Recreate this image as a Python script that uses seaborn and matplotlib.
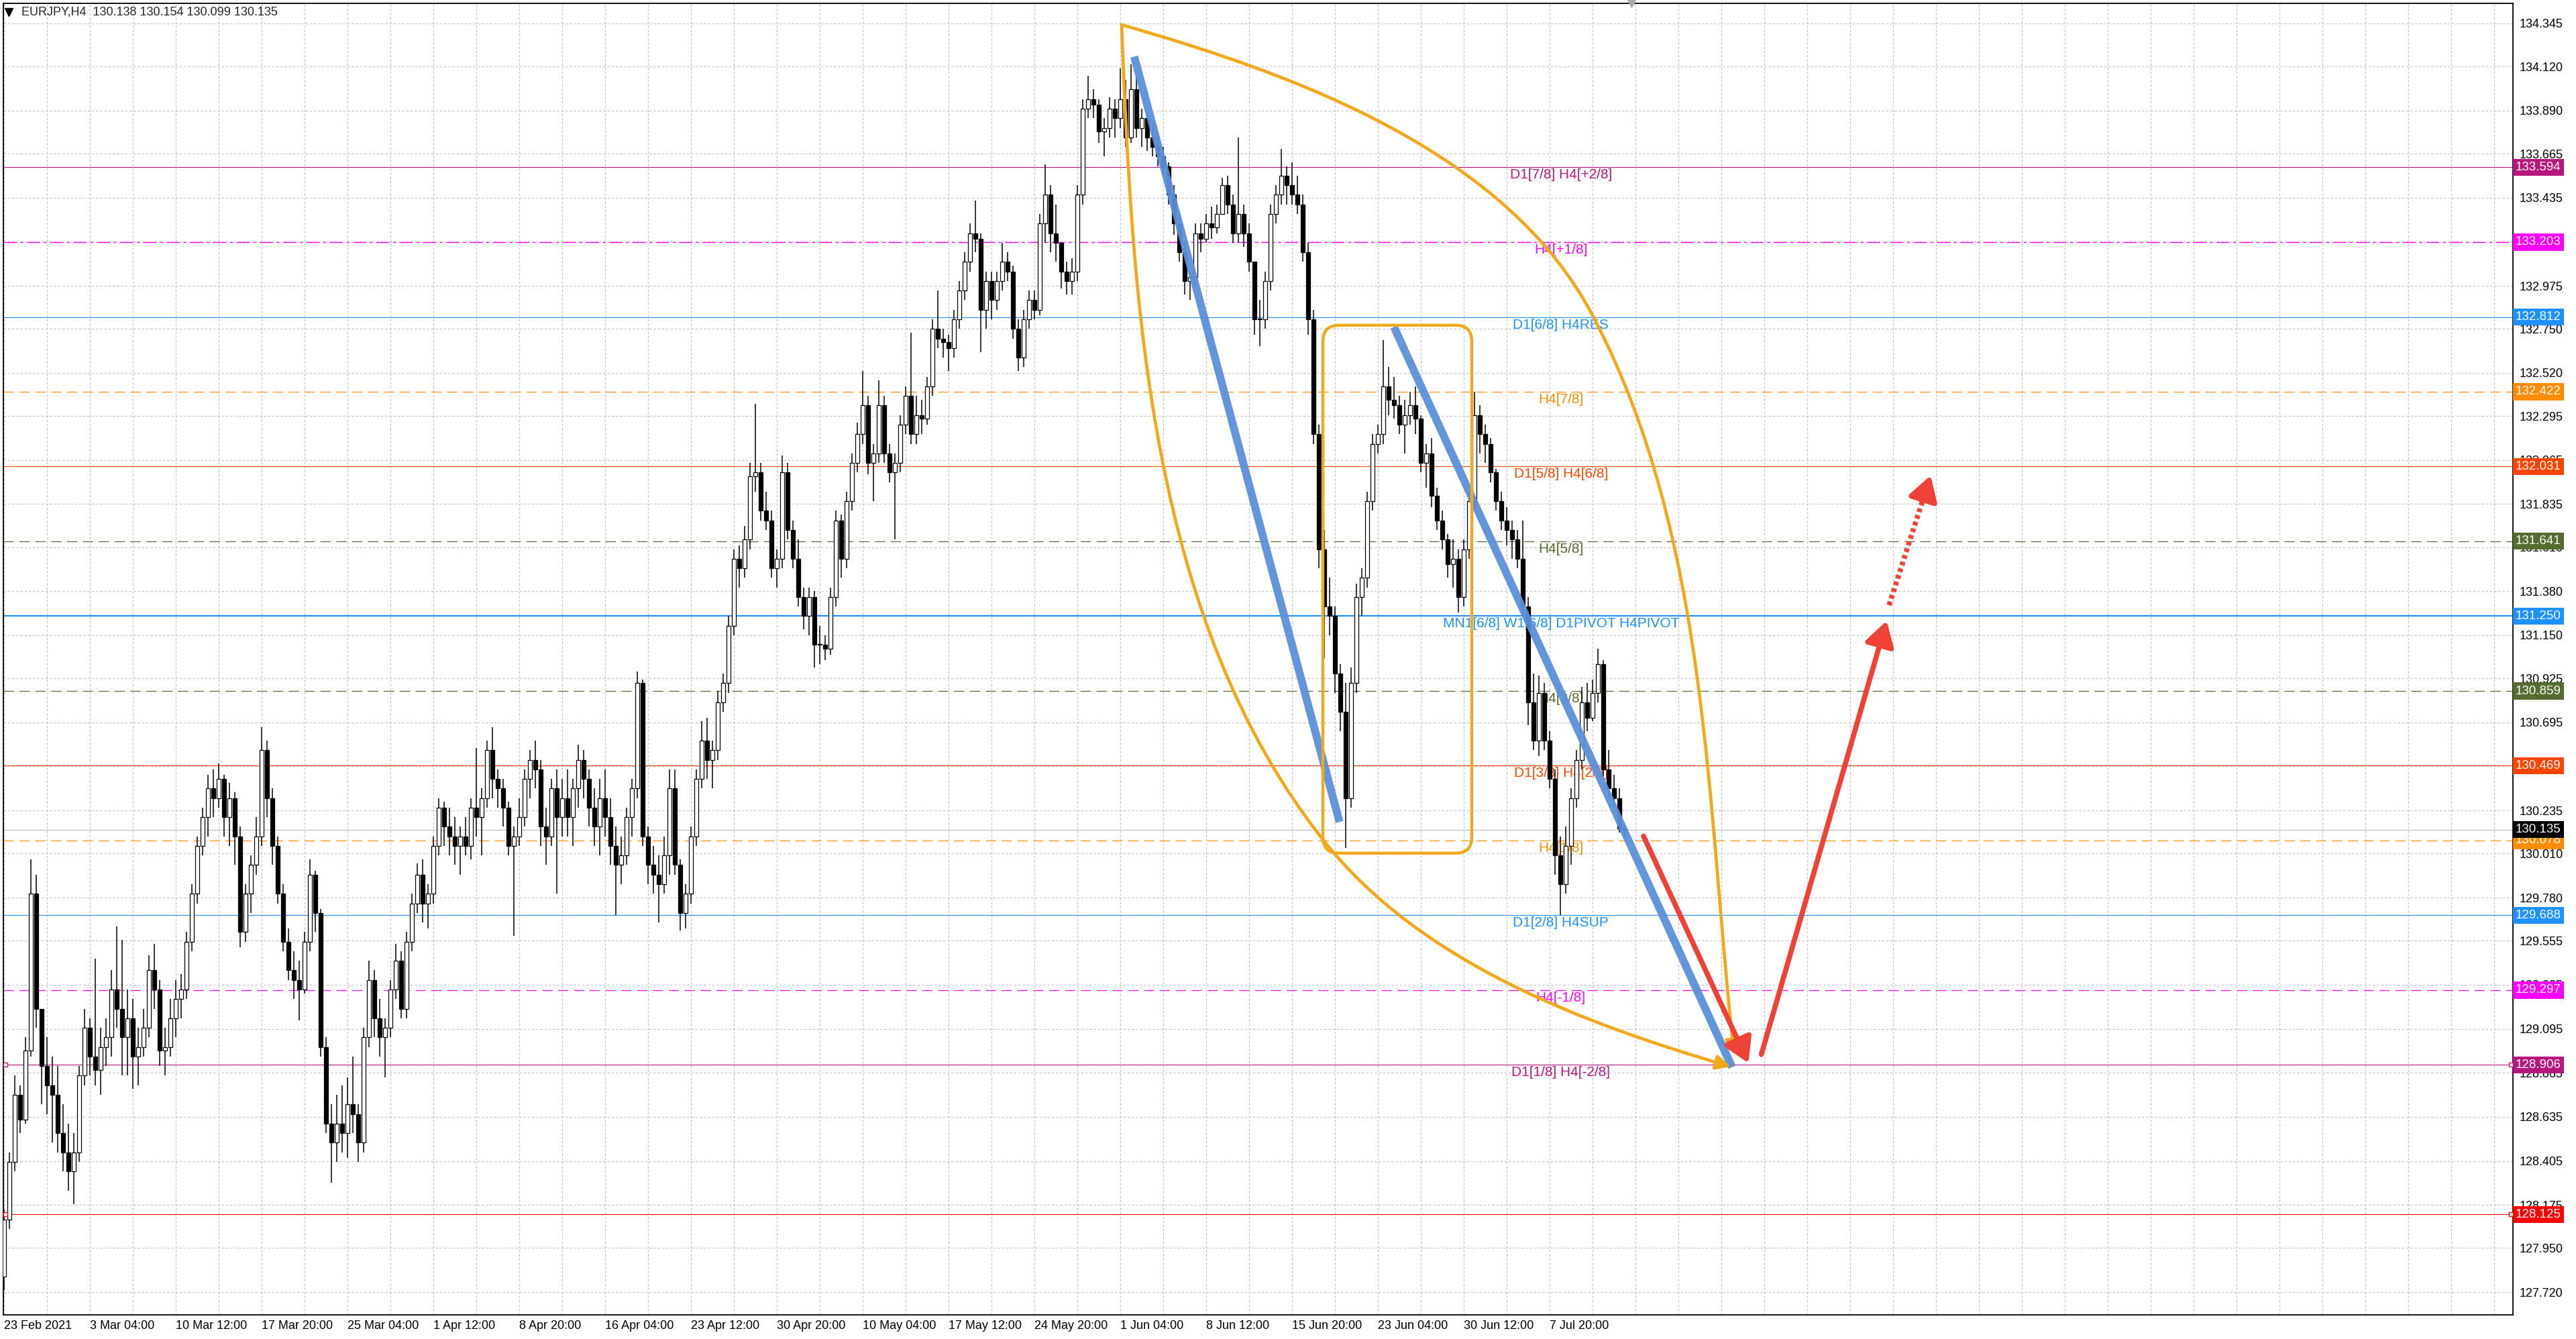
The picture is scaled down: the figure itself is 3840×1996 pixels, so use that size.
import numpy as np
import pandas as pd
import matplotlib
matplotlib.use("Agg")
import matplotlib.pyplot as plt
import seaborn as sns
from matplotlib.path import Path
from matplotlib.patches import FancyArrowPatch, FancyBboxPatch
from matplotlib.lines import Line2D

# ==================== 数据 ====================

header_text = "EURJPY,H4  130.138 130.154 130.099 130.135"

# H4 candles, one entry every 2 bars (8 hours)
bar_step = 2
first_open = 127.80
highs = [
    128.15, 128.45, 128.85, 128.80, 129.05, 129.98, 129.90, 129.20, 129.05, 128.95,
    128.90, 128.70, 128.60, 128.55, 128.90, 129.20, 129.15, 129.46, 129.10, 129.15,
    129.40, 129.63, 129.56, 129.30, 129.25, 129.10, 129.20, 129.48, 129.54, 129.35,
    129.10, 129.25, 129.35, 129.38, 129.60, 129.85, 130.10, 130.25, 130.42, 130.45,
    130.48, 130.42, 130.38, 130.33, 130.15, 129.85, 130.00, 130.20, 130.67, 130.60,
    130.35, 130.10, 129.85, 129.62, 129.50, 129.45, 129.60, 129.98, 129.92, 129.72,
    129.05, 128.70, 128.75, 128.80, 128.84, 128.95, 128.70, 129.10, 129.45, 129.40,
    129.25, 129.15, 129.35, 129.54, 129.50, 129.60, 129.80, 129.96, 129.98, 129.85,
    130.10, 130.30, 130.28, 130.25, 130.20, 130.15, 130.20, 130.30, 130.56, 130.35,
    130.60, 130.67, 130.45, 130.40, 130.28, 130.15, 130.30, 130.45, 130.55, 130.60,
    130.50, 130.25, 130.40, 130.45, 130.40, 130.45, 130.40, 130.58, 130.55, 130.45,
    130.35, 130.40, 130.45, 130.30, 130.15, 130.10, 130.25, 130.40, 130.96, 130.92,
    130.15, 130.05, 130.00, 130.10, 130.45, 130.45, 129.98, 129.85, 130.15, 130.45,
    130.70, 130.72, 130.60, 130.86, 130.95, 131.25, 131.60, 131.62, 131.72, 132.05,
    132.36, 132.05, 131.90, 131.80, 131.60, 132.09, 132.05, 131.75, 131.65, 131.40,
    131.40, 131.38, 131.20, 131.15, 131.40, 131.80, 131.78, 131.90, 132.10, 132.26,
    132.53, 132.40, 132.15, 132.48, 132.40, 132.15, 132.10, 132.30, 132.45, 132.73,
    132.40, 132.38, 132.50, 132.80, 132.95, 132.75, 132.72, 132.85, 133.00, 133.15,
    133.30, 133.42, 133.25, 133.05, 133.05, 133.05, 133.20, 133.15, 133.08, 132.80,
    132.85, 132.95, 132.95, 133.35, 133.61, 133.50, 133.40, 133.20, 133.10, 133.12,
    133.50, 133.95, 134.07, 134.00, 133.95, 133.85, 133.96, 133.95, 134.11, 134.05,
    134.13, 134.08, 133.90, 133.88, 133.82, 133.78, 133.70, 133.62, 133.50, 133.35,
    133.20, 133.05, 133.30, 133.30, 133.35, 133.39, 133.40, 133.54, 133.55, 133.45,
    133.75, 133.40, 133.30, 133.10, 132.90, 133.05, 133.40, 133.50, 133.69, 133.60,
    133.62, 133.55, 133.45, 133.20, 132.85, 132.25, 131.70, 131.45, 131.30, 131.00,
    130.90, 130.98, 131.42, 131.50, 131.90, 132.20, 132.25, 132.69, 132.55, 132.50,
    132.40, 132.38, 132.42, 132.45, 132.30, 132.15, 132.18, 131.92, 131.80, 131.68,
    131.65, 131.60, 131.65, 131.90, 132.42, 132.35, 132.25, 132.18, 132.02, 131.90,
    131.82, 131.75, 131.70, 131.75, 131.35, 130.95, 130.94, 130.90, 130.65, 130.45,
    130.10, 130.15, 130.35, 130.55, 130.88, 130.90, 130.92, 131.08, 131.02, 130.55,
    130.42, 130.35, 130.154,
]
lows = [
    127.73, 128.05, 128.35, 128.55, 128.60, 128.95, 129.10, 128.70, 128.65, 128.50,
    128.45, 128.35, 128.25, 128.18, 128.40, 128.80, 128.85, 128.80, 128.75, 128.90,
    128.95, 129.10, 128.85, 128.85, 128.78, 128.80, 128.95, 129.05, 129.20, 128.90,
    128.85, 128.95, 129.05, 129.15, 129.25, 129.50, 129.75, 130.00, 130.10, 130.20,
    130.25, 130.10, 130.05, 129.95, 129.52, 129.55, 129.70, 129.90, 130.05, 130.20,
    129.95, 129.75, 129.50, 129.35, 129.25, 129.14, 129.28, 129.50, 129.60, 128.95,
    128.55, 128.29, 128.40, 128.45, 128.42, 128.55, 128.40, 128.45, 129.00, 129.05,
    128.95, 128.84, 129.05, 129.25, 129.15, 129.15, 129.50, 129.70, 129.65, 129.62,
    129.75, 130.00, 130.05, 130.00, 129.95, 129.90, 130.00, 129.98, 130.10, 130.00,
    130.25, 130.30, 130.25, 130.15, 130.00, 129.58, 130.05, 130.15, 130.30, 130.35,
    130.05, 129.95, 130.05, 129.80, 130.10, 130.10, 130.05, 130.25, 130.30, 130.15,
    130.05, 130.00, 130.10, 129.95, 129.69, 129.85, 129.95, 130.10, 130.30, 130.05,
    129.85, 129.80, 129.65, 129.80, 129.90, 129.90, 129.61, 129.62, 129.75, 130.05,
    130.35, 130.40, 130.35, 130.50, 130.75, 130.85, 131.15, 131.40, 131.45, 131.60,
    131.90, 131.75, 131.70, 131.45, 131.40, 131.50, 131.65, 131.50, 131.30, 131.18,
    131.15, 130.98, 131.00, 131.02, 131.05, 131.30, 131.45, 131.50, 131.80, 132.00,
    132.15, 131.99, 131.85, 132.05, 132.05, 131.95, 131.65, 132.00, 132.20, 132.15,
    132.15, 132.20, 132.25, 132.40, 132.65, 132.60, 132.53, 132.60, 132.75, 132.90,
    133.05, 133.15, 132.63, 132.75, 132.80, 132.85, 132.95, 133.00, 132.70, 132.53,
    132.55, 132.75, 132.80, 132.82, 133.20, 133.15, 133.10, 132.96, 132.93, 132.93,
    133.00, 133.40, 133.85, 133.85, 133.72, 133.65, 133.75, 133.75, 133.80, 133.70,
    133.72, 133.75, 133.70, 133.68, 133.65, 133.60, 133.55, 133.40, 133.24, 133.10,
    132.93, 132.90, 132.98, 133.15, 133.20, 133.22, 133.25, 133.35, 133.35, 133.20,
    133.20, 133.18, 133.05, 132.72, 132.66, 132.75, 132.95, 133.30, 133.40, 133.40,
    133.40, 133.35, 133.10, 132.72, 132.15, 131.50, 131.03, 131.15, 130.85, 130.65,
    130.04, 130.25, 130.85, 131.25, 131.40, 131.80, 132.10, 132.15, 132.30, 132.28,
    132.20, 132.10, 132.25, 132.20, 132.00, 131.92, 131.82, 131.70, 131.60, 131.45,
    131.40, 131.27, 131.30, 131.55, 131.80, 132.10, 132.05, 131.95, 131.80, 131.70,
    131.62, 131.55, 131.50, 131.25, 130.68, 130.55, 130.52, 130.55, 130.35, 129.90,
    129.69, 129.80, 129.95, 130.25, 130.45, 130.65, 130.70, 130.80, 130.40, 130.30,
    130.25, 130.12, 130.099,
]
closes = [
    128.10, 128.40, 128.75, 128.62, 128.98, 129.80, 129.20, 128.90, 128.80, 128.75,
    128.55, 128.45, 128.35, 128.45, 128.85, 129.10, 128.95, 128.88, 129.00, 129.05,
    129.30, 129.20, 129.05, 129.15, 128.95, 129.00, 129.10, 129.40, 129.30, 128.98,
    129.00, 129.15, 129.25, 129.30, 129.55, 129.80, 130.05, 130.20, 130.35, 130.30,
    130.40, 130.20, 130.30, 130.10, 129.60, 129.80, 129.95, 130.10, 130.55, 130.30,
    130.05, 129.80, 129.55, 129.40, 129.35, 129.30, 129.55, 129.90, 129.70, 129.00,
    128.60, 128.50, 128.60, 128.55, 128.70, 128.65, 128.50, 129.05, 129.35, 129.15,
    129.05, 129.10, 129.30, 129.45, 129.20, 129.55, 129.75, 129.90, 129.75, 129.80,
    130.05, 130.25, 130.15, 130.10, 130.05, 130.10, 130.05, 130.25, 130.20, 130.30,
    130.55, 130.40, 130.35, 130.25, 130.05, 130.10, 130.20, 130.40, 130.50, 130.45,
    130.15, 130.10, 130.35, 130.20, 130.30, 130.20, 130.35, 130.50, 130.40, 130.25,
    130.15, 130.30, 130.20, 130.05, 129.95, 130.00, 130.20, 130.35, 130.90, 130.10,
    129.95, 129.90, 129.85, 130.00, 130.35, 129.95, 129.70, 129.80, 130.10, 130.40,
    130.60, 130.50, 130.55, 130.80, 130.90, 131.20, 131.55, 131.50, 131.65, 131.98,
    132.00, 131.80, 131.75, 131.50, 131.55, 132.00, 131.70, 131.55, 131.35, 131.25,
    131.35, 131.10, 131.10, 131.08, 131.35, 131.75, 131.55, 131.85, 132.05, 132.20,
    132.35, 132.05, 132.10, 132.35, 132.10, 132.00, 132.05, 132.25, 132.40, 132.20,
    132.30, 132.28, 132.45, 132.75, 132.70, 132.68, 132.65, 132.80, 132.95, 133.10,
    133.25, 133.22, 132.85, 133.00, 132.90, 133.00, 133.10, 133.05, 132.75, 132.60,
    132.80, 132.90, 132.85, 133.30, 133.45, 133.25, 133.20, 133.05, 133.00, 133.05,
    133.45, 133.90, 133.95, 133.92, 133.78, 133.80, 133.90, 133.85, 133.95, 133.75,
    134.00, 133.80, 133.85, 133.75, 133.70, 133.65, 133.60, 133.45, 133.30, 133.15,
    133.00, 133.02, 133.25, 133.22, 133.30, 133.28, 133.35, 133.50, 133.40, 133.25,
    133.35, 133.25, 133.10, 132.80, 132.80, 133.00, 133.35, 133.45, 133.55, 133.50,
    133.45, 133.40, 133.15, 132.80, 132.20, 131.60, 131.30, 131.25, 130.95, 130.75,
    130.30, 130.90, 131.35, 131.45, 131.85, 132.15, 132.20, 132.45, 132.38, 132.35,
    132.25, 132.30, 132.35, 132.28, 132.05, 132.10, 131.88, 131.75, 131.65, 131.52,
    131.55, 131.35, 131.60, 131.85, 132.30, 132.20, 132.15, 132.00, 131.85, 131.75,
    131.70, 131.65, 131.55, 131.30, 130.80, 130.60, 130.85, 130.60, 130.40, 130.00,
    129.85, 130.05, 130.30, 130.50, 130.80, 130.72, 130.85, 131.00, 130.45, 130.35,
    130.30, 130.14, 130.135,
]

date_labels = [
    "23 Feb 2021", "3 Mar 04:00", "10 Mar 12:00", "17 Mar 20:00", "25 Mar 04:00",
    "1 Apr 12:00", "8 Apr 20:00", "16 Apr 04:00", "23 Apr 12:00", "30 Apr 20:00",
    "10 May 04:00", "17 May 12:00", "24 May 20:00", "1 Jun 04:00", "8 Jun 12:00",
    "15 Jun 20:00", "23 Jun 04:00", "30 Jun 12:00", "7 Jul 20:00",
]
date_tick_bars = [32 * n for n in range(len(date_labels))]

price_ticks = [
    134.345, 134.120, 133.890, 133.665, 133.435, 133.205, 132.975, 132.750,
    132.520, 132.295, 132.065, 131.835, 131.610, 131.380, 131.150, 130.925,
    130.695, 130.465, 130.235, 130.010, 129.780, 129.555, 129.325, 129.095,
    128.865, 128.635, 128.405, 128.175, 127.950, 127.720,
]

# Murrey math / pivot levels
level_prices = [133.594, 133.203, 132.812, 132.422, 132.031, 131.641, 131.250,
                130.859, 130.469, 130.078, 129.688, 129.297, 128.906, 128.125]
level_texts = ["D1[7/8] H4[+2/8]", "H4[+1/8]", "D1[6/8] H4RES", "H4[7/8]",
               "D1[5/8] H4[6/8]", "H4[5/8]", "MN1[6/8] W1[6/8] D1PIVOT H4PIVOT",
               "H4[3/8]", "D1[3/8] H4[2/8]", "H4[1/8]", "D1[2/8] H4SUP",
               "H4[-1/8]", "D1[1/8] H4[-2/8]", ""]
level_colors = ["#B4187F", "#FF00FF", "#1E90FF", "#FF8C00", "#FF4500", "#556B2F",
                "#1E90FF", "#556B2F", "#FF4500", "#FF8C00", "#1E90FF", "#FF00FF",
                "#B4187F", "#FF0000"]
level_styles = ["solid", "dashdot", "solid", "dashed", "solid", "dashed", "solid",
                "dashed", "solid", "dashed", "solid", "dashed", "solid", "solid"]
level_widths = [0.8, 1.0, 0.8, 0.9, 0.8, 0.9, 1.5, 0.9, 0.8, 0.9, 0.8, 0.9, 0.8, 0.8]
current_price = 130.135

# hand-drawn analysis (bar index, price)
trend_a_bars = [421.2, 497.7]
trend_a_prices = [134.172, 130.175]
trend_b_bars = [518.0, 644.0]
trend_b_prices = [132.760, 128.894]
upper_arc_bars = [416.5, 483.0, 560.5, 592.25, 635.5, 634.5, 644.75]
upper_arc_prices = [134.338, 134.072, 133.669, 132.814, 131.658, 130.260, 128.960]
lower_arc_bars = [416.5, 420.6, 426.8, 492.25, 528.1, 588.35, 643.5]
lower_arc_prices = [134.338, 132.868, 131.221, 130.070, 129.440, 129.124, 128.897]
box_bars = [491.5, 547.0]
box_prices = [130.012, 132.769]
red_down_bars = [611.0, 650.1]
red_down_prices = [130.101, 128.916]
red_up_bars = [654.9, 701.6]
red_up_prices = [128.961, 131.225]
red_dash_bars = [702.5, 718.0]
red_dash_prices = [131.307, 131.984]

# ==================== 绘图 ====================

sns.set_theme(style="white")
plt.rcParams["font.family"] = ["Liberation Sans", "DejaVu Sans"]
plt.rcParams["lines.scale_dashes"] = False

W, H = 3840, 1996
fig = plt.figure(figsize=(W / 100, H / 100), dpi=100, facecolor="white")
ax = fig.add_axes([5 / W, 36 / H, 3741 / W, 1955 / H])
ax.set_facecolor("white")
ax.set_xlim(-0.25, 935)
ax.set_ylim(127.601, 134.450)

orange = "#F2A81D"
blue = "#5B8FD8"
red = "#EE4238"

dash_map = {"solid": "-", "dashed": (0, (11, 6)), "dashdot": (0, (14, 4, 3, 4))}

# grid
ax.set_xticks(date_tick_bars)
ax.set_xticklabels(date_labels, ha="left", fontsize=13)
ax.set_xticks(np.arange(0, 935, 16), minor=True)
ax.set_yticks(price_ticks)
ax.set_yticklabels([f"{p:.3f}" for p in price_ticks], fontsize=13)
grid_kw = dict(color="#C4C4C4", linewidth=0.9, linestyle=(0, (2.5, 2)))
ax.grid(True, which="both", axis="x", **grid_kw)
ax.grid(True, which="major", axis="y", **grid_kw)
ax.set_axisbelow(True)

ax.yaxis.tick_right()
ax.tick_params(axis="y", length=0, pad=7, colors="black")
ax.tick_params(axis="x", which="major", direction="out", length=4, width=1,
               pad=2, colors="black")
ax.tick_params(axis="x", which="minor", length=0)
for s in ax.spines.values():
    s.set_color("black")
    s.set_linewidth(1.3)

# level lines and labels
for p, txt, col, st, lw in zip(level_prices, level_texts, level_colors,
                               level_styles, level_widths):
    ax.axhline(p, color=col, lw=lw, ls=dash_map[st], zorder=1.5)
    if txt:
        ax.annotate(txt, xy=(580.2, p), xytext=(0, -2), textcoords="offset pixels",
                    ha="center", va="top", fontsize=15, color=col, zorder=2)
ax.axhline(current_price, color="#C0C0C0", lw=0.9, zorder=1.5)

# small anchor squares of the selected lines
for p, col in [(128.906, "#B4187F"), (128.125, "#FF0000")]:
    ax.plot([0.5, 934.2], [p, p], ls="none", marker="s", ms=4, mfc="white",
            mec=col, mew=1, zorder=6, clip_on=False)

# candles
df = pd.DataFrame({"bar": np.arange(len(closes)) * bar_step,
                   "high": highs, "low": lows, "close": closes})
df["open"] = [first_open] + closes[:-1]
up = df["close"] >= df["open"]
body_lo = df[["open", "close"]].min(axis=1)
body_h = (df["close"] - df["open"]).abs().clip(lower=0.005)
ax.vlines(df["bar"], df["low"], df["high"], color="black", lw=1.1, zorder=3)
ax.bar(df["bar"], body_h, bottom=body_lo, width=1.3,
       color=np.where(up, "white", "black"), edgecolor="black",
       linewidth=0.9, zorder=3.1)

# blue trend lines
trend_df = pd.DataFrame({
    "bar": trend_a_bars + trend_b_bars,
    "price": trend_a_prices + trend_b_prices,
    "line": ["a", "a", "b", "b"],
})
sns.lineplot(data=trend_df, x="bar", y="price", units="line", estimator=None,
             color=blue, linewidth=8.5, alpha=0.95, ax=ax, legend=False, zorder=5,
             solid_capstyle="butt")

# orange arcs
codes = [Path.MOVETO] + [Path.CURVE4] * 6
for bx, py in [(upper_arc_bars, upper_arc_prices), (lower_arc_bars, lower_arc_prices)]:
    arc = FancyArrowPatch(path=Path(list(zip(bx, py)), codes),
                          arrowstyle="-|>,head_length=0.5,head_width=0.25",
                          mutation_scale=26, color=orange, lw=3.4, zorder=5)
    ax.add_patch(arc)

# orange rounded box
rect = FancyBboxPatch((box_bars[0], box_prices[0]), box_bars[1] - box_bars[0],
                      box_prices[1] - box_prices[0],
                      boxstyle="round,pad=0,rounding_size=6",
                      mutation_aspect=(1 / 285.4) / 0.25,
                      fill=False, ec=orange, lw=3.2, zorder=5)
ax.add_patch(rect)

# red arrows
arrow_kw = dict(arrowstyle="-|>,head_length=0.5,head_width=0.3",
                mutation_scale=44, color=red, lw=5.5, shrinkA=0, shrinkB=0, zorder=6)
for bx, py in [(red_down_bars, red_down_prices), (red_up_bars, red_up_prices)]:
    ax.add_patch(FancyArrowPatch((bx[0], py[0]), (bx[1], py[1]), **arrow_kw))

# dashed arrow: dashed shaft, solid head on the last stretch
head_frac = 0.8
mid = (red_dash_bars[0] + head_frac * (red_dash_bars[1] - red_dash_bars[0]),
       red_dash_prices[0] + head_frac * (red_dash_prices[1] - red_dash_prices[0]))
ax.add_patch(FancyArrowPatch((red_dash_bars[0], red_dash_prices[0]), mid,
                             arrowstyle="-", color=red, lw=5.5, ls=(0, (4, 3.5)),
                             capstyle="butt", shrinkA=0, shrinkB=0, zorder=6))
ax.add_patch(FancyArrowPatch(mid, (red_dash_bars[1], red_dash_prices[1]), **arrow_kw))

# price tags on the right
for p, col in zip(level_prices + [current_price], level_colors + ["black"]):
    ax.annotate(f"{p:.3f}", xy=(1.0, p), xycoords=("axes fraction", "data"),
                xytext=(4, 0), textcoords="offset pixels", ha="left", va="center",
                fontsize=13.5, color="white", annotation_clip=False, zorder=10,
                bbox=dict(boxstyle="square,pad=0.22", fc=col, ec="none"))

# header and markers
fig.text(32 / W, 1 - 18 / H, header_text, fontsize=13, ha="left", va="center")
fig.add_artist(Line2D([13 / W], [1 - 18 / H], marker="v", markersize=8,
                      color="black", ls="none", transform=fig.transFigure))
ax.plot([606.5], [1.0], transform=ax.get_xaxis_transform(), marker="v",
        ms=9, color="#A8A8A8", ls="none", clip_on=False, zorder=10)

ax.set_xlabel("")
ax.set_ylabel("")
fig.savefig("out.png", dpi=100, facecolor="white")
